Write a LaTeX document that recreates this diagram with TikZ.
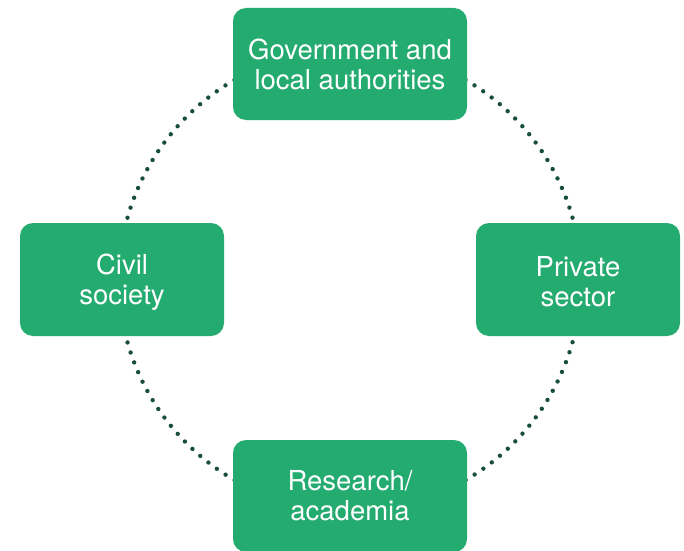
\documentclass[tikz,border=0pt]{standalone}
\usepackage{fontspec}
\setmainfont{TeX Gyre Heros}
\definecolor{boxgreen}{HTML}{23AB70}
\definecolor{dotgreen}{HTML}{184F3A}
\begin{document}
\begin{tikzpicture}[x=1pt,y=1pt,
  actor/.style={fill=boxgreen, rounded corners=13pt, text=white, align=center,
    inner sep=0pt, font=\fontsize{27.5}{30}\selectfont},
  ring/.style={dotgreen, line width=4.4pt, line cap=round,
    dash pattern=on 0pt off 10.52pt}]
\useasboundingbox (0,0) rectangle (684,550);
% dotted ring behind the boxes
\coordinate (hub) at (350,270);
\draw[ring] (hub) circle[radius=231];
% stakeholder boxes
\node[actor, minimum width=234, minimum height=112] (gov) at (350,486) {Government and\\local authorities};
\node[actor, minimum width=204, minimum height=113] (civ) at (122,270.5) {};
\node[white, align=center, font=\fontsize{27.5}{30}\selectfont] (civt) at (122,267.5) {Civil\\society};
\node[actor, minimum width=204, minimum height=113] (priv) at (578,270.5) {};
\node[white, align=center, font=\fontsize{27.5}{30}\selectfont] (privt) at (578,268.5) {Private\\sector};
\node[actor, minimum width=234, minimum height=112] (res) at (350,54) {Research/\\academia};
\end{tikzpicture}
\end{document}
